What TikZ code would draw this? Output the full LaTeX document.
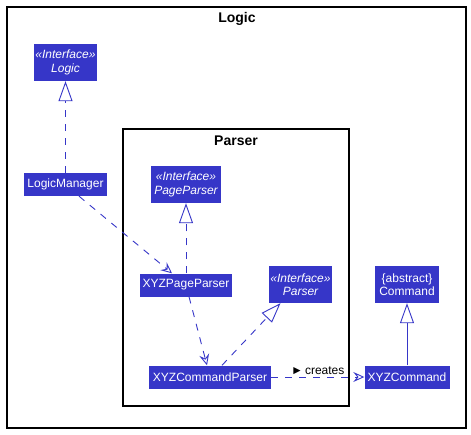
\documentclass[tikz,border=0pt]{standalone}
\usepackage{fontspec}
\setmainfont{Liberation Sans}
\usetikzlibrary{arrows.meta}
\definecolor{umlblue}{RGB}{54,54,200}
\tikzset{
  cls/.style={draw=none, fill=umlblue, text=white, inner sep=0pt, align=center, font=\fontsize{12}{13.5}\selectfont},
  frame/.style={draw=black, line width=1.3pt},
  ftitle/.style={font=\fontsize{14}{16}\selectfont\bfseries, inner sep=0pt},
  dep/.style={draw=umlblue, line width=0.9pt, dash pattern=on 7pt off 7pt, -{Stealth[length=11pt,width=10pt,inset=4pt,open,fill=white]}},
  real/.style={draw=umlblue, line width=0.9pt, dash pattern=on 7pt off 7pt, -{Triangle[open,length=20pt,width=14pt,fill=white]}},
  inh/.style={draw=umlblue, line width=0.9pt, -{Triangle[open,length=20pt,width=14pt,fill=white]}},
}
\begin{document}
\begin{tikzpicture}[x=1pt,y=-1pt]
\useasboundingbox (0,0) rectangle (471,434);
\draw[frame] (7,7) rectangle (466,428);
\node[ftitle] (tlogic) at (237,19) {Logic};
\draw[frame] (123,129) rectangle (349,406);
\node[ftitle] (tparser) at (236,141) {Parser};

\node[cls, minimum width=63pt, minimum height=37pt] (logic) at (65.5,62.5) {\itshape «Interface»\\\itshape Logic};
\node[cls, minimum width=83pt, minimum height=23pt] (lm) at (65.5,184.5) {LogicManager};
\node[cls, minimum width=70pt, minimum height=37pt] (pp) at (186,184.5) {\itshape «Interface»\\\itshape PageParser};
\node[cls, minimum width=92pt, minimum height=23pt] (xpp) at (186,285) {XYZPageParser};
\node[cls, minimum width=63pt, minimum height=37pt] (parser) at (300.5,284.5) {\itshape «Interface»\\\itshape Parser};
\node[cls, minimum width=64pt, minimum height=37pt] (cmd) at (407,284.5) {\{abstract\}\\Command};
\node[cls, minimum width=122pt, minimum height=23pt] (xcp) at (210,377) {XYZCommandParser};
\node[cls, minimum width=85pt, minimum height=23pt] (xc) at (407,377) {XYZCommand};

\draw[real] (lm.north) -- (logic.south);
\draw[dep] ([xshift=13.5pt]lm.south) -- ([xshift=-14pt]xpp.north);
\draw[real] (xpp.north) -- (pp.south);
\draw[dep] ([xshift=3pt]xpp.south) -- ([xshift=-3pt]xcp.north);
\draw[real] ([xshift=12pt]xcp.north) -- ([xshift=-20pt]parser.south);
\draw[dep] (xcp.east) -- (xc.west) node[pos=0.5, above=2pt, font=\fontsize{12}{14}\selectfont, inner sep=0pt] (lbl) {►\,creates};
\draw[inh] (xc.north) -- (cmd.south);
\end{tikzpicture}
\end{document}
